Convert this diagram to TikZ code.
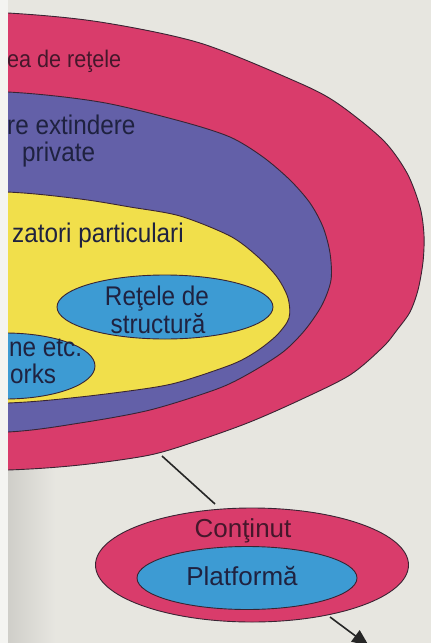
\documentclass[tikz,border=0pt]{standalone}
\usepackage{fontspec}
\setmainfont{Liberation Sans}
\usetikzlibrary{arrows.meta,shapes.geometric}
\definecolor{bg}{HTML}{E7E6E0}
\definecolor{strip}{HTML}{F4F4F1}
\definecolor{shadowgrey}{HTML}{CFCEC9}
\definecolor{mag}{HTML}{D93C6B}
\definecolor{vio}{HTML}{6360A8}
\definecolor{yel}{HTML}{F1DF4B}
\definecolor{sky}{HTML}{3D9BD3}
\definecolor{edge}{HTML}{3A2433}
\definecolor{ink}{HTML}{1F2240}
\definecolor{inkm}{HTML}{45172B}
\newcommand{\cnd}[1]{\scalebox{0.9}[1]{#1}}
\begin{document}
\begin{tikzpicture}[x=1pt,y=-1pt,
  region/.style={draw=edge, line width=0.9pt},
  lbl/.style={inner sep=0pt, text=ink, font=\fontsize{27}{27}\selectfont},
  toplbl/.style={inner sep=0pt, text=inkm, font=\fontsize{24}{24}\selectfont},
  lowlbl/.style={inner sep=0pt, font=\fontsize{26}{26}\selectfont},
  oval/.style={ellipse, draw=edge, line width=0.9pt, inner sep=0pt},
  link/.style={draw=black!85, line width=1.6pt}]
\useasboundingbox (0,0) rectangle (431,643);
\fill[bg] (0,0) rectangle (431,643);
\fill[strip] (0,0) rectangle (8,643);
\shade[left color=shadowgrey, right color=bg] (8,460) rectangle (55,643);
\begin{scope}
  \clip (8,0) rectangle (431,643);
  \filldraw[region, fill=mag] plot[smooth cycle, tension=0.5] coordinates {
    (-120,9) (8,13) (100,22) (200,43) (297,82) (337,103) (383,140) (407,173)
    (420,207) (424,235) (423,262) (418,290) (410,312) (397,330) (383,347)
    (350,375) (300,400) (250,422) (200,440) (150,455) (80,465) (8,470) (-120,472)};
  \filldraw[region, fill=vio] plot[smooth cycle, tension=0.5] coordinates {
    (-120,90) (8,92) (100,102) (180,121) (230,137) (263,157) (290,180)
    (310,203) (323,227) (330,253) (331,280) (322,305) (305,330) (283,352)
    (250,373) (217,389) (150,410) (80,423) (8,432) (-120,434)};
  \filldraw[region, fill=yel] plot[smooth cycle, tension=0.5] coordinates {
    (-120,190) (7,192) (80,199) (130,207) (180,216) (230,236) (257,256)
    (277,277) (288,298) (289,318) (277,335) (257,351) (233,364) (183,381)
    (150,388) (80,397) (8,403) (-120,405)};
  \node[oval, fill=sky, minimum width=216pt, minimum height=64pt] (struct) at (165,307) {};
  \node[oval, fill=sky, minimum width=180pt, minimum height=66pt] (works) at (5,366) {};
  \node[toplbl, anchor=base west] (t1) at (7,67) {\cnd{ea de reţele}};
  \node[lbl, anchor=base west] (t2) at (7,134) {\cnd{re extindere}};
  \node[lbl, anchor=base west] (t3) at (22,161) {\cnd{private}};
  \node[lbl, anchor=base west] (t4) at (12,242) {\cnd{zatori particulari}};
  \node[lbl, anchor=base] (t5) at (157,305) {\cnd{Reţele de}};
  \node[lbl, anchor=base] (t6) at (158,333) {\cnd{structură}};
  \node[lbl, anchor=base west] (t7) at (9,356) {\cnd{ne etc.}};
  \node[lbl, anchor=base west] (t8) at (10,383) {\cnd{orks}};
\end{scope}
\node[oval, fill=mag, minimum width=313pt, minimum height=114pt] (cont) at (252,565) {};
\node[oval, fill=sky, minimum width=220pt, minimum height=63pt] (plat) at (247,578) {};
\node[lowlbl, text=inkm, anchor=base] (tc) at (243,537) {Conţinut};
\node[lowlbl, text=ink, anchor=base] (tp) at (242,585) {Platformă};
\coordinate (l1) at (162,456);
\coordinate (l2) at (215,504);
\draw[link] (l1) -- (l2);
\coordinate (a1) at (330,617);
\coordinate (a2) at (369,646);
\draw[link, -{Triangle[length=17pt, width=14pt]}] (a1) -- (a2);
\end{tikzpicture}
\end{document}
